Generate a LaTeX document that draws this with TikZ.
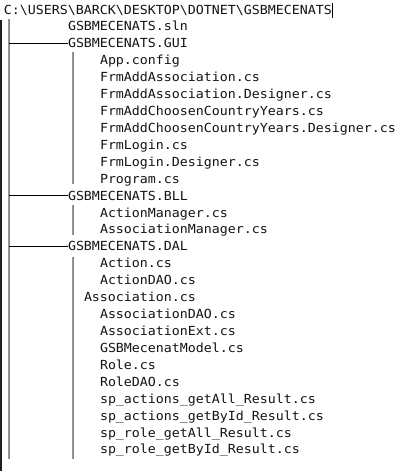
\documentclass[tikz,border=0pt]{standalone}
\usepackage{fontspec}
\setmonofont[FakeStretch=1.063]{DejaVu Sans Mono}
\definecolor{txt}{RGB}{20,20,20}
\definecolor{lorange}{RGB}{222,138,52}
\definecolor{lblue}{RGB}{72,146,222}
\tikzset{
  entry/.style={anchor=base west, inner sep=0pt, outer sep=0pt, text=txt,
    font=\ttfamily\fontsize{12.5}{15}\selectfont},
  vorange/.style={draw=lorange, line width=1.3pt},
  vblue/.style={draw=lblue, line width=0.8pt},
  hline/.style={draw=black, line width=0.9pt},
}
\newcommand{\vl}[2]{%
  \draw[vorange] ($(#1)+(-0.5,0)$) -- ($(#2)+(-0.5,0)$);
  \draw[vblue] ($(#1)+(0.6,0)$) -- ($(#2)+(0.6,0)$);}
\usetikzlibrary{calc}
\begin{document}
\begin{tikzpicture}[x=1pt,y=-1pt]
\useasboundingbox[fill=white] (0,0) rectangle (408,471);
% window left edge
\fill[black!88] (0,20) rectangle (1.6,471);
\def\p{16.92}
\node[entry] (root) at (4,14) {C:\textbackslash USERS\textbackslash BARCK\textbackslash DESKTOP\textbackslash DOTNET\textbackslash GSBMECENATS};
\node[entry] (sln) at (68,14+1*\p) {GSBMECENATS.sln};
\node[entry] (gui) at (68,14+2*\p) {GSBMECENATS.GUI};
\node[entry] (g1) at (100,14+3*\p) {App.config};
\node[entry] (g2) at (100,14+4*\p) {FrmAddAssociation.cs};
\node[entry] (g3) at (100,14+5*\p) {FrmAddAssociation.Designer.cs};
\node[entry] (g4) at (100,14+6*\p) {FrmAddChoosenCountryYears.cs};
\node[entry] (g5) at (100,14+7*\p) {FrmAddChoosenCountryYears.Designer.cs};
\node[entry] (g6) at (100,14+8*\p) {FrmLogin.cs};
\node[entry] (g7) at (100,14+9*\p) {FrmLogin.Designer.cs};
\node[entry] (g8) at (100,14+10*\p) {Program.cs};
\node[entry] (bll) at (68,14+11*\p) {GSBMECENATS.BLL};
\node[entry] (b1) at (100,14+12*\p) {ActionManager.cs};
\node[entry] (b2) at (100,14+13*\p) {AssociationManager.cs};
\node[entry] (dal) at (68,14+14*\p) {GSBMECENATS.DAL};
\node[entry] (d1) at (100,14+15*\p) {Action.cs};
\node[entry] (d2) at (100,14+16*\p) {ActionDAO.cs};
\node[entry] (d3) at (84,14+17*\p) {Association.cs};
\node[entry] (d4) at (100,14+18*\p) {AssociationDAO.cs};
\node[entry] (d5) at (100,14+19*\p) {AssociationExt.cs};
\node[entry] (d6) at (100,14+20*\p) {GSBMecenatModel.cs};
\node[entry] (d7) at (100,14+21*\p) {Role.cs};
\node[entry] (d8) at (100,14+22*\p) {RoleDAO.cs};
\node[entry] (d9) at (100,14+23*\p) {sp\_actions\_getAll\_Result.cs};
\node[entry] (d10) at (100,14+24*\p) {sp\_actions\_getById\_Result.cs};
\node[entry] (d11) at (100,14+25*\p) {sp\_role\_getAll\_Result.cs};
\node[entry] (d12) at (100,14+26*\p) {sp\_role\_getById\_Result.cs};
% caret
\coordinate (caretT) at (332.8,2.5);
\coordinate (caretB) at (332.8,17.5);
\draw[black, line width=0.9pt] (caretT) -- (caretB);
% trunk
\coordinate (tT) at (9,19);
\coordinate (tB) at (9,459);
\vl{tT}{tB}
% GUI branch
\coordinate (gT) at (73,52);
\coordinate (gB) at (73,184);
\vl{gT}{gB}
% BLL branch
\coordinate (bT) at (73,205);
\coordinate (bB) at (73,235);
\vl{bT}{bB}
% DAL branch
\coordinate (dT) at (73,257);
\coordinate (dB) at (73,459);
\vl{dT}{dB}
% horizontal connectors
\draw[hline] (tT|-gui.west) -- (gui.west);
\draw[hline] (tT|-bll.west) -- (bll.west);
\draw[hline] (tT|-dal.west) -- (dal.west);
\end{tikzpicture}
\end{document}
